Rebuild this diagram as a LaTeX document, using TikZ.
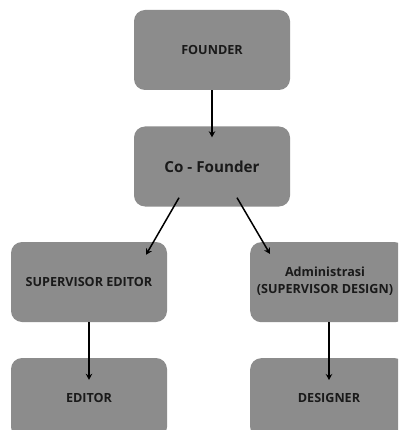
\documentclass[tikz,border=0pt]{standalone}
\usepackage{fontspec}
\setmainfont{Open Sans}
\usetikzlibrary{arrows.meta}
\definecolor{boxgray}{HTML}{8C8C8C}
\definecolor{txt}{HTML}{1A1A1A}
\begin{document}
\begin{tikzpicture}[x=1pt,y=1pt,
  box/.style={fill=boxgray, rounded corners=11pt, minimum width=156pt, minimum height=80pt, inner sep=0pt, text=txt, font=\bfseries\fontsize{12.6}{15}\selectfont, align=center},
  conn/.style={line width=1.5pt, -{Stealth[length=6pt,width=6.5pt]}}]
\useasboundingbox (0,0) rectangle (398,-430);
\clip (0,0) rectangle (398,-430);
\fill[white] (0,0) rectangle (398,-430);
\node[box] (f) at (212,-50) {FOUNDER};
\node[box, font=\bfseries\fontsize{15.2}{18}\selectfont] (cf) at (212,-166.5) {Co - Founder};
\node[box] (se) at (89,-282) {SUPERVISOR EDITOR};
\node[box, anchor=north west] (ad) at (250,-242) {};
\node[text=txt, font=\bfseries\fontsize{12.6}{17.5}\selectfont, align=center] (adt) at (325,-281) {Administrasi\\(SUPERVISOR DESIGN)};
\node[box] (ed) at (89,-398) {EDITOR};
\node[box, anchor=north west] (ds) at (250,-358) {};
\node[text=txt, font=\bfseries\fontsize{12.6}{15}\selectfont] (dst) at (329,-398) {DESIGNER};
\draw[conn] (f.south) -- ([yshift=-11pt]cf.north);
\draw[conn] ([shift={(-33,9)}]cf.south) -- ([shift={(57,-13)}]se.north);
\draw[conn] ([shift={(25,9)}]cf.south) -- ([shift={(20,-12)}]ad.north west);
\draw[conn] (se.south) -- ([yshift=-22pt]ed.north);
\draw[conn] ([xshift=79pt]ad.south west) -- ([shift={(79,-22)}]ds.north west);
\end{tikzpicture}
\end{document}
